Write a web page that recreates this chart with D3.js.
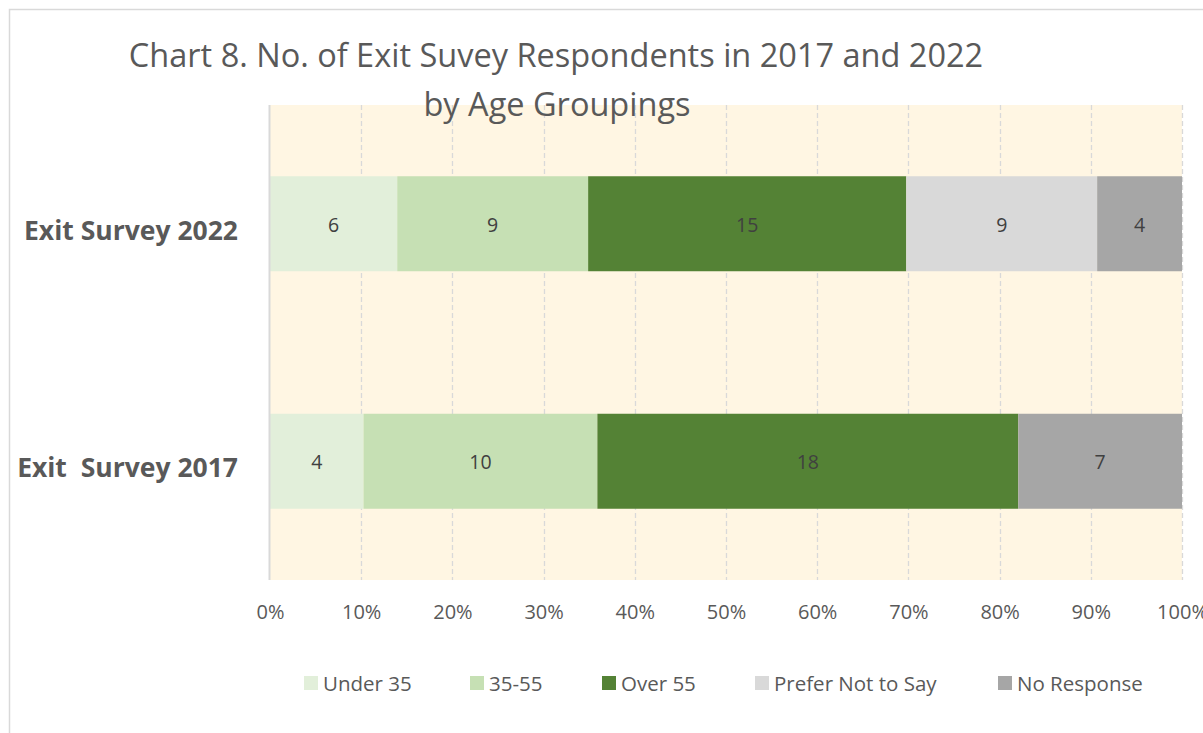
<!DOCTYPE html>
<html>
<head>
<meta charset="utf-8">
<script src="https://cdn.jsdelivr.net/npm/d3@7"></script>
<style>
  html, body { margin: 0; padding: 0; background: #fff; }
  svg { display: block; }
  text { font-family: "Open Sans", sans-serif; }
</style>
</head>
<body>
<svg id="chart" width="1203" height="733"></svg>
<script>
// ---- data ----
const categories = ["Exit Survey 2022", "Exit  Survey 2017"];
const seriesNames = ["Under 35", "35-55", "Over 55", "Prefer Not to Say", "No Response"];
const values2022 = [6, 9, 15, 9, 4];
const values2017 = [4, 10, 18, 0, 7];
const tickValues = [0, 0.1, 0.2, 0.3, 0.4, 0.5, 0.6, 0.7, 0.8, 0.9, 1.0];
const titleLines = ["Chart 8. No. of Exit Suvey Respondents in 2017 and 2022", "by Age Groupings"];
const colors = ["#E2EFDA", "#C6E0B4", "#548235", "#D9D9D9", "#A6A6A6"];

const rows = [values2022, values2017].map((vals, i) => {
  const o = { category: categories[i] };
  seriesNames.forEach((s, j) => o[s] = vals[j]);
  return o;
});

const svg = d3.select("#chart");
const plot = { left: 270, right: 1182, top: 105, bottom: 580 };

// outer chart border
svg.append("rect").attr("x", 9.5).attr("y", 9.5).attr("width", 1400).attr("height", 1000)
  .attr("fill", "#fff").attr("stroke", "#D9D9D9").attr("stroke-width", 1.5);

const x = d3.scaleLinear().domain([0, 1]).range([plot.left, plot.right]);
const y = d3.scaleBand().domain(categories).range([plot.top, plot.bottom])
  .paddingInner(0.6).paddingOuter(0.3);

// plot background
svg.append("rect").attr("x", plot.left).attr("y", plot.top)
  .attr("width", plot.right - plot.left).attr("height", plot.bottom - plot.top)
  .attr("fill", "#FFF6E3");

// gridlines
svg.append("g").selectAll("line").data(tickValues.filter(d => d > 0)).join("line")
  .attr("x1", d => Math.round(x(d)) + 0.5).attr("x2", d => Math.round(x(d)) + 0.5)
  .attr("y1", plot.top).attr("y2", plot.bottom)
  .attr("stroke", "#D9D9D9").attr("stroke-width", 1.3).attr("stroke-dasharray", "5,3");

// stacked bars (100%)
const stack = d3.stack().keys(seriesNames).offset(d3.stackOffsetExpand);
const layers = stack(rows);

const g = svg.append("g");
layers.forEach((layer, i) => {
  g.append("g").selectAll("rect").data(layer).join("rect")
    .attr("x", d => x(d[0])).attr("width", d => x(d[1]) - x(d[0]))
    .attr("y", d => y(d.data.category)).attr("height", y.bandwidth())
    .attr("fill", colors[i]);
});
layers.forEach((layer, i) => {
  g.append("g").selectAll("text").data(layer.filter(d => d.data[layer.key] > 0)).join("text")
    .attr("x", d => (x(d[0]) + x(d[1])) / 2)
    .attr("y", d => y(d.data.category) + y.bandwidth() / 2 + 8)
    .attr("text-anchor", "middle")
    .attr("font-size", 19.5).attr("fill", "#404040")
    .text(d => d.data[layer.key]);
});

// left axis line
svg.append("line").attr("x1", plot.left - 0.5).attr("x2", plot.left - 0.5)
  .attr("y1", plot.top).attr("y2", plot.bottom)
  .attr("stroke", "#D9D9D9").attr("stroke-width", 2);

// x axis tick labels
const xAxis = d3.axisBottom(x).tickValues(tickValues).tickFormat(d3.format(".0%")).tickSize(0).tickPadding(0);
const xg = svg.append("g").attr("transform", `translate(0, ${plot.bottom})`).call(xAxis);
xg.select(".domain").remove();
xg.selectAll("text").attr("font-family", "Open Sans, sans-serif").attr("font-size", 20)
  .attr("fill", "#595959").attr("dy", null).attr("y", 39);

// category labels
const yAxis = d3.axisLeft(y).tickSize(0).tickPadding(0);
const yg = svg.append("g").attr("transform", `translate(238, 0)`).call(yAxis);
yg.select(".domain").remove();
yg.selectAll("text").attr("font-family", "Open Sans, sans-serif").attr("font-size", 26.5)
  .attr("font-weight", "bold").attr("fill", "#595959").attr("dy", "0.6em")
  .style("white-space", "pre");

// title
const title = svg.append("text").attr("text-anchor", "middle").attr("fill", "#595959");
title.append("tspan").attr("x", 556).attr("y", 67).attr("font-size", 32.5).text(titleLines[0]);
title.append("tspan").attr("x", 557).attr("y", 116).attr("font-size", 32.5).text(titleLines[1]);

// legend
const legendX = [304, 470, 602, 755, 998];
const lg = svg.append("g");
seriesNames.forEach((s, i) => {
  lg.append("rect").attr("x", legendX[i]).attr("y", 676).attr("width", 14).attr("height", 14).attr("fill", colors[i]);
  lg.append("text").attr("x", legendX[i] + 19).attr("y", 690.5).attr("font-size", 20.5)
    .attr("fill", "#595959").text(s);
});
</script>
</body>
</html>
